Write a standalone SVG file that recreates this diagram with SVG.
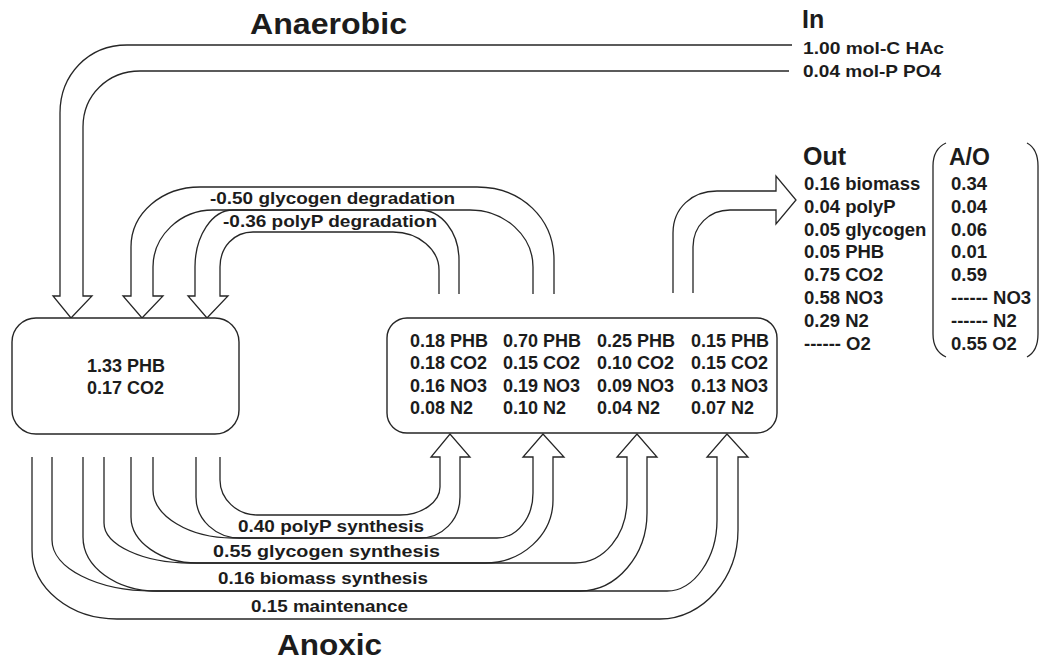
<svg xmlns="http://www.w3.org/2000/svg" width="1039" height="664" viewBox="0 0 1039 664">
<style>
  .t{font-family:"Liberation Sans",Arial,Helvetica,sans-serif;font-weight:bold;fill:#1c1c1c}
  .s{font-size:17px}
  .m{font-size:18px}
  .o{font-size:18.5px}
  .big{font-size:30px}
  .hd{font-size:25px}
  .ln{fill:none;stroke:#262626;stroke-width:1.3;stroke-linejoin:miter}
  .box{fill:#fff;stroke:#262626;stroke-width:1.4}
</style>
<rect width="1039" height="664" fill="#fff"/>

<g id="titles">
  <text class="t big" x="250" y="34" textLength="157" lengthAdjust="spacingAndGlyphs">Anaerobic</text>
  <text class="t big" x="277" y="655" textLength="105" lengthAdjust="spacingAndGlyphs">Anoxic</text>
</g>

<g id="connectors">
  <!-- inputs: HAc / PO4 -->
  <path class="ln" d="M792 45 L127 45 C88 45 60 75 60 113 L60 296 L53 296 L71 318 L92 296 L83 296 L83 127 C83 95 108 71 140 71 L789 71"/>
  <!-- glycogen degradation -->
  <path class="ln" d="M554 294 L554 260 C554 219 522 187 477 187 L200 187 C162 187 131 213 131 247 L131 296 L123 296 L142 318 L163 296 L153 296 L153 267 C153 236 180 210 213 210 L470 210 C505 210 533 236 533 267 L533 294"/>
  <!-- polyP degradation -->
  <path class="ln" d="M459 294 L459 260 C459 232 441 210 420 210 L233 210 C212 210 195 236 195 267 L195 296 L188 296 L207 318 L228 296 L220 296 L220 267 C220 247 234 232 253 232 L393 232 C419 232 439 250 439 270 L439 294"/>
  <!-- output arrow -->
  <path class="ln" d="M673 293 L673 233 C673 208 692 191 717 191 L776 191 L776 176 L796 200 L776 224 L776 210 L730 210 C709 210 693 226 693 247 L693 293"/>
  <!-- polyP synthesis -->
  <path class="ln" d="M196 457 L196 497 C196 520 216 538 240 538 L420 538 C442 538 460 520 460 497 L460 457 L470 457 L450 434 L431 457 L440 457 L440 487 C440 502 422 515 400 515 L257 515 C237 515 220 499 220 480 L220 457"/>
  <!-- glycogen synthesis -->
  <path class="ln" d="M131 457 L131 517 C131 542 161 563 197 563 L485 563 C522 563 553 535 553 500 L553 457 L564 457 L543 434 L523 457 L533 457 L533 493 C533 518 517 538 497 538 L233 538 C189 538 153 516 153 490 L153 457"/>
  <!-- biomass synthesis -->
  <path class="ln" d="M83 457 L83 537 C83 567 116 591 157 591 L580 591 C617 591 647 555 647 513 L647 457 L657 457 L637 434 L617 457 L627 457 L627 500 C627 535 604 563 575 563 L190 563 C143 563 104 545 104 523 L104 457"/>
  <!-- maintenance -->
  <path class="ln" d="M32 457 L32 550 C32 588 70 619 117 619 L660 619 C703 619 738 578 738 530 L738 457 L748 457 L727 434 L707 457 L717 457 L717 520 C717 558 694 591 667 591 L153 591 C97 591 52 568 52 540 L52 457"/>
</g>

<g id="anaerobic-node">
  <rect class="box" x="12" y="318" width="227" height="116" rx="24"/>
  <text class="t m" x="87" y="372">1.33 PHB</text>
  <text class="t m" x="87" y="394">0.17 CO2</text>
</g>

<g id="anoxic-node">
  <rect class="box" x="387" y="318" width="390" height="115" rx="20"/>
  <g class="t m">
    <text x="410" y="347">0.18 PHB</text>
    <text x="410" y="369">0.18 CO2</text>
    <text x="410" y="392">0.16 NO3</text>
    <text x="410" y="414">0.08 N2</text>
    <text x="503" y="347">0.70 PHB</text>
    <text x="503" y="369">0.15 CO2</text>
    <text x="503" y="392">0.19 NO3</text>
    <text x="503" y="414">0.10 N2</text>
    <text x="597" y="347">0.25 PHB</text>
    <text x="597" y="369">0.10 CO2</text>
    <text x="597" y="392">0.09 NO3</text>
    <text x="597" y="414">0.04 N2</text>
    <text x="691" y="347">0.15 PHB</text>
    <text x="691" y="369">0.15 CO2</text>
    <text x="691" y="392">0.13 NO3</text>
    <text x="691" y="414">0.07 N2</text>
  </g>
</g>

<g id="labels" class="t s">
  <text x="210" y="204" textLength="245" lengthAdjust="spacingAndGlyphs">-0.50 glycogen degradation</text>
  <text x="223" y="227" textLength="214" lengthAdjust="spacingAndGlyphs">-0.36 polyP degradation</text>
  <text x="238" y="532" textLength="186" lengthAdjust="spacingAndGlyphs">0.40 polyP synthesis</text>
  <text x="213" y="557" textLength="227" lengthAdjust="spacingAndGlyphs">0.55 glycogen synthesis</text>
  <text x="218" y="584" textLength="210" lengthAdjust="spacingAndGlyphs">0.16 biomass synthesis</text>
  <text x="251" y="612" textLength="157" lengthAdjust="spacingAndGlyphs">0.15 maintenance</text>
</g>

<g id="in-node">
  <text class="t hd" x="802" y="28">In</text>
  <text class="t s" x="803" y="54" textLength="141" lengthAdjust="spacingAndGlyphs">1.00 mol-C HAc</text>
  <text class="t s" x="803" y="77" textLength="138" lengthAdjust="spacingAndGlyphs">0.04 mol-P PO4</text>
</g>

<g id="out-node">
  <text class="t hd" x="803" y="165">Out</text>
  <g class="t o">
    <text x="804" y="190">0.16 biomass</text>
    <text x="804" y="213">0.04 polyP</text>
    <text x="804" y="236">0.05 glycogen</text>
    <text x="804" y="258">0.05 PHB</text>
    <text x="804" y="281">0.75 CO2</text>
    <text x="804" y="304">0.58 NO3</text>
    <text x="804" y="327">0.29 N2</text>
    <text x="804" y="350">------ O2</text>
  </g>
</g>

<g id="ao-node">
  <path class="ln" d="M946 143 Q933 149 933 166 L933 334 Q933 351 946 357"/>
  <path class="ln" d="M1027 143 Q1038 149 1038 166 L1038 334 Q1038 351 1027 357"/>
  <text class="t" style="font-size:23px" x="949" y="165">A/O</text>
  <g class="t o">
    <text x="951" y="190">0.34</text>
    <text x="951" y="213">0.04</text>
    <text x="951" y="236">0.06</text>
    <text x="951" y="258">0.01</text>
    <text x="951" y="281">0.59</text>
    <text x="951" y="304">------ NO3</text>
    <text x="951" y="327">------ N2</text>
    <text x="951" y="350">0.55 O2</text>
  </g>
</g>
</svg>
